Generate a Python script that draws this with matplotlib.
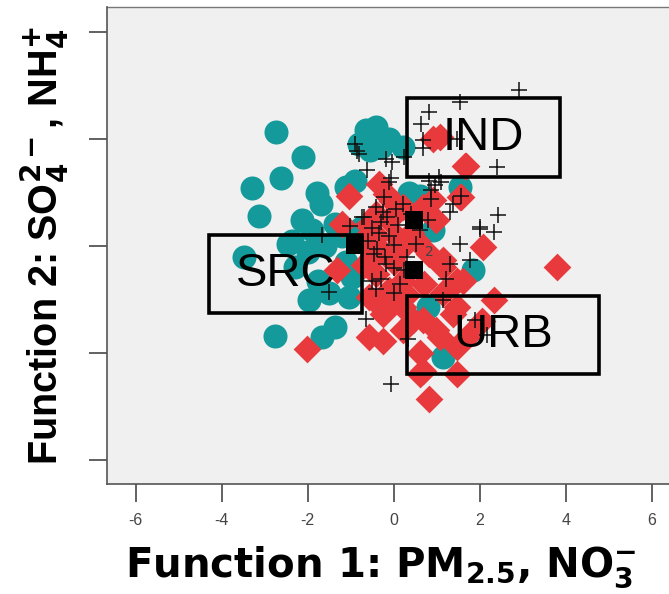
import matplotlib
matplotlib.use("Agg")
import matplotlib.pyplot as plt
from matplotlib.patches import Rectangle

# discriminant scores, one pair of lists per group
src_x = [-2.73, -2.10, -2.62, -3.29, -3.12, -3.47, -2.76, -2.14, -1.79, -1.70,
         -1.12, -0.89, -0.65, -0.42, -0.11, 0.21, -0.81, -0.55, -0.30, 0.60,
         0.91, 1.54, 1.85, 1.14, 0.79, -2.37, -2.45, -2.30, -1.75, -1.98,
         -1.04, -0.97, -1.51, -1.36, -1.67, -1.90, -1.36, -1.20, -2.00, -1.60,
         -1.10, -0.75, 0.35]
src_y = [2.14, 1.67, 1.28, 1.10, 0.56, -0.19, -1.68, 0.49, 0.99, 0.80,
         1.11, 1.23, 2.17, 2.23, 2.01, 1.86, 1.92, 1.80, 1.85, 0.95,
         0.30, 1.11, -0.45, -2.07, -1.13, 0.11, 0.05, -0.39, -0.64, -1.01,
         -0.95, -0.57, -0.88, -1.51, -1.70, 0.30, 0.42, 0.20, -0.10, 0.00,
         -0.30, 0.35, 1.00]

urb_x = [-1.04, 0.91, 1.65, 1.57, 2.08, 2.32, -1.32, -2.02, 0.83, 0.60,
         -0.57, -0.26, 0.44, 0.99, 1.46, -1.20, -0.73, -0.18, 0.21, 0.68,
         0.99, 0.21, 0.83, 1.14, 1.46, -0.42, -0.11, 0.21, -0.57, -0.26,
         0.21, 1.14, 1.46, -0.42, 3.80, 0.68, 1.07, 1.38, 1.77, 1.61,
         0.21, 1.14, -0.34, 0.91, 1.54, 1.07, 1.69, 1.46, 0.60, 0.68,
         -0.60, -0.40, -0.10, 0.10, 0.40, -0.20, 0.00, -0.50, 0.30, 0.55,
         -0.05, -0.35, 0.15, 0.70, -0.70, 2.05]
urb_y = [0.95, 2.01, 1.51, 0.92, -0.01, -1.01, -0.45, -1.91, -2.85, -2.38,
         -1.70, -1.76, -1.38, -1.57, -1.88, 0.42, 0.11, 0.98, 0.73, 0.73,
         0.49, -0.01, -0.14, -0.39, -0.64, -0.51, -0.82, -0.64, -0.95, -1.26,
         -1.13, -0.88, -1.13, 0.61, -0.39, -2.32, -1.70, -1.26, -1.63, -0.64,
         -1.57, -0.26, 1.17, 0.86, 0.92, 2.04, 1.51, -2.38, -2.00, -1.38,
         0.40, 0.20, 0.50, 0.15, 0.25, -0.15, -0.30, -0.20, -0.90, 0.10,
         0.85, -1.10, -1.00, -0.70, -0.35, -1.40]

ind_x = [2.90, 1.54, 0.83, 0.64, 0.68, 0.68, 1.46, 2.39, -0.89, -0.85,
         -0.19, -0.03, 0.25, -0.61, -0.07, -0.10, 0.83, 0.95, 1.10, 1.05,
         0.87, 1.57, 1.38, 1.30, 0.87, 2.43, 2.01, 2.32, -0.22, -0.42,
         0.21, -0.15, -0.73, 0.79, 0.01, 0.52, -0.46, -0.19, 0.25, -0.50,
         -0.42, 0.01, 1.54, 2.01, 1.77, 1.30, 1.22, 1.14, 1.89, 2.16,
         0.32, -0.07, -0.65, -1.67, -1.51, -0.81, -0.69, -1.01, -0.50, -0.30,
         -0.10, 0.10, -0.40, -0.20, 0.30, -0.30, 0.00, 0.40, 0.60, -0.60,
         -0.25, 0.05, 0.15, -0.35]
ind_y = [2.92, 2.70, 2.51, 2.29, 1.98, 1.83, 2.01, 1.48, 1.92, 1.79,
         1.64, 1.58, 1.67, 1.42, 1.27, 1.20, 1.23, 1.14, 1.20, 1.30,
         1.05, 0.95, 0.80, 0.64, 0.89, 0.58, 0.36, 0.27, 0.92, 0.73,
         0.80, 0.55, 0.55, 0.49, 0.02, 0.05, -0.14, -0.32, -0.45, -0.64,
         -0.79, -0.88, 0.05, 0.33, -0.26, -0.32, -0.60, -1.01, -1.38, -1.66,
         -1.73, -2.58, -1.35, 0.21, -0.85, 1.73, 0.55, 0.39, 0.35, 0.45,
         0.20, 0.40, -0.05, -0.20, -0.20, -0.60, -0.40, 0.60, 0.30, 0.10,
         0.65, 0.70, -0.70, 0.25]

# group centroids
cen_x = [-0.89, 0.48, 0.48]
cen_y = [0.02, 0.49, -0.45]

# label boxes: (text, x0, x1, y0, y1)
boxes = [("IND", 0.30, 3.87, 1.29, 2.77),
         ("SRC", -4.30, -0.73, -1.25, 0.22),
         ("URB", 0.30, 4.78, -2.39, -0.92)]

teal = "#149a9a"
red = "#e83a3c"

plt.rcParams["mathtext.fontset"] = "custom"
plt.rcParams["mathtext.rm"] = "DejaVu Sans"
plt.rcParams["mathtext.bf"] = "DejaVu Sans:bold"

fig = plt.figure(figsize=(6.69, 5.94), dpi=100)
ax = fig.add_axes([0.1595, 0.186, 0.86, 0.802])
ax.set_facecolor("#f0f0f0")

ax.scatter(src_x, src_y, s=300, c=teal, marker="o", linewidths=0, zorder=2)
ax.scatter(urb_x, urb_y, s=200, c=red, marker="D", linewidths=0, zorder=3)
ax.scatter(ind_x, ind_y, s=120, c="#111111", marker="+", linewidths=1.1, zorder=4)
ax.scatter(cen_x, cen_y, s=170, c="black", marker="s", linewidths=0, zorder=5)
ax.text(0.83, -0.11, "2", fontsize=10, color="#444444", ha="center", va="center", zorder=5)

for name, x0, x1, y0, y1 in boxes:
    ax.add_patch(Rectangle((x0, y0), x1 - x0, y1 - y0, fill=False,
                           edgecolor="black", linewidth=2.6, zorder=6))
    ax.text((x0 + x1) / 2, (y0 + y1) / 2, name, fontsize=34, family="Liberation Sans",
            ha="center", va="center", zorder=7)

ax.set_xlim(-6.67, 6.7)
ax.set_ylim(-4.43, 4.47)
ax.set_xticks([-6, -4, -2, 0, 2, 4, 6])
ax.set_xticklabels(["-6", "-4", "-2", "0", "2", "4", "6"],
                   fontsize=11.5, color="#444444", family="Liberation Sans")
ax.set_yticks([-4, -2, 0, 2, 4])
ax.set_yticklabels([])
ax.tick_params(length=13, width=1.3, color="#555555")
ax.tick_params(axis="x", pad=8)

for side in ["top", "right"]:
    ax.spines[side].set_visible(False)
for side in ["left", "bottom"]:
    ax.spines[side].set_color("#555555")
    ax.spines[side].set_linewidth(1.2)
ax.plot([-6.67, 6.7], [4.47, 4.47], color="#777777", lw=1.0, clip_on=False, zorder=1)

ax.set_xlabel(r"Function 1: PM$_{\mathbf{2.5}}$, NO$_{\mathbf{3}}^{\mathbf{-}}$",
              fontsize=29, fontweight="bold", family="DejaVu Sans")
ax.set_ylabel(r"Function 2: SO$_{\mathbf{4}}^{\mathbf{2-}}$, NH$_{\mathbf{4}}^{\mathbf{+}}$",
              fontsize=28.5, fontweight="bold", family="Liberation Sans")
ax.xaxis.set_label_coords(0.477, -0.128)
ax.yaxis.set_label_coords(-0.062, 0.50)

fig.savefig("out.png", dpi=100)
